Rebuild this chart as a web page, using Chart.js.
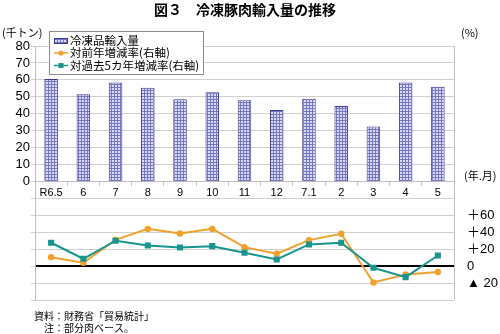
<!DOCTYPE html>
<html>
<head>
<meta charset="utf-8">
<script src="https://cdn.jsdelivr.net/npm/chart.js@4.4.0/dist/chart.umd.min.js"></script>
<style>
html, body { margin: 0; padding: 0; background: #fff; }
#wrap { width: 500px; height: 334px; }
</style>
</head>
<body>
<div id="wrap"><canvas id="porkImportChart" width="500" height="334"></canvas></div>
<script>
// data
const months = ['R6.5', '6', '7', '8', '9', '10', '11', '12', '7.1', '2', '3', '4', '5']
const import_volume = [60.5, 51.5, 58.4, 55.3, 48.5, 52.7, 47.9, 42.2, 48.8, 44.6, 32.5, 58.4, 56.0]   // 千トン
const yoy_change = [10.6, 4, 31, 44, 38.6, 44, 22.4, 14.6, 30.7, 38.2, -19.3, -9.8, -7]            // %
const vs5yr_change = [27.6, 8.7, 30, 24.4, 22, 23.6, 15.8, 7.9, 25.6, 27.6, -2, -13, 12.6]        // %
const right_tick_values = [60, 40, 20, 0, -20]
const right_tick_text = ['＋60', '＋40', '＋20', '0', '▲ 20']

const JP = "'Noto Sans CJK JP', sans-serif"
const NUM = "'Liberation Sans', 'Noto Sans CJK JP', sans-serif"
const ORANGE = '#f2a02c'
const TEAL = '#1a948f'
const NAVY = '#3c3c8a'

// hatched fill for the bars
function makeHatch() {
    const c = document.createElement('canvas')
    c.width = 3; c.height = 3
    const g = c.getContext('2d')
    g.fillStyle = '#dcdcf4'
    g.fillRect(0, 0, 3, 3)
    g.fillStyle = '#7474c4'
    g.fillRect(0, 0, 1, 3)
    g.fillRect(0, 0, 3, 1)
    return g.createPattern(c, 'repeat')
}
const ctx2d = document.getElementById('porkImportChart').getContext('2d')
const hatch = makeHatch()

const extraText = {
    id: 'extraText',
    afterDraw(chart) {
        const ctx = chart.ctx
        ctx.save()
        ctx.fillStyle = '#000'
        ctx.textBaseline = 'middle'

        ctx.font = 'bold 14px ' + JP
        ctx.textAlign = 'center'
        ctx.fillText('図３　冷凍豚肉輸入量の推移', 245, 10)

        ctx.font = '11px ' + JP
        ctx.textAlign = 'left'
        ctx.fillText('(千トン)', 2, 33)
        ctx.fillText('(%)', 461, 33)
        ctx.fillText('(年.月)', 464, 176)

        ctx.font = '10px ' + JP
        ctx.fillText('資料：財務省「貿易統計」', 34, 316)
        ctx.fillText('注：部分肉ベース。', 44, 328)

        // legend
        ctx.fillStyle = '#fff'
        ctx.strokeStyle = '#8c8c8c'
        ctx.lineWidth = 1
        ctx.fillRect(49.5, 31.5, 154, 43)
        ctx.strokeRect(49.5, 31.5, 154, 43)

        ctx.fillStyle = hatch
        ctx.fillRect(54, 38, 14, 6)
        ctx.strokeStyle = NAVY
        ctx.strokeRect(54.5, 38.5, 13, 5)

        const rows = [[ORANGE, 53, 'circle'], [TEAL, 65.5, 'rect']]
        rows.forEach(([col, y, shape]) => {
            ctx.strokeStyle = col
            ctx.fillStyle = col
            ctx.lineWidth = 1.5
            ctx.beginPath()
            ctx.moveTo(54, y); ctx.lineTo(68, y)
            ctx.stroke()
            if (shape === 'circle') {
                ctx.beginPath(); ctx.arc(61, y, 2.6, 0, Math.PI * 2); ctx.fill()
            } else {
                ctx.fillRect(58.5, y - 2.5, 5, 5)
            }
        })

        ctx.fillStyle = '#000'
        ctx.font = '11.5px ' + JP
        ctx.fillText('冷凍品輸入量', 70, 40.5)
        ctx.fillText('対前年増減率(右軸)', 70, 53)
        ctx.fillText('対過去5カ年増減率(右軸)', 70, 65.5)
        ctx.restore()
    }
}

new Chart(ctx2d, {
    type: 'bar',
    data: {
        labels: months,
        datasets: [{
            type: 'bar',
            label: '冷凍品輸入量',
            data: import_volume,
            yAxisID: 'y',
            backgroundColor: hatch,
            borderColor: NAVY,
            borderWidth: 1,
            barPercentage: 0.42,
            categoryPercentage: 1,
            order: 2
        }, {
            type: 'line',
            label: '対前年増減率(右軸)',
            data: yoy_change,
            yAxisID: 'y2',
            borderColor: ORANGE,
            backgroundColor: ORANGE,
            borderWidth: 2,
            pointStyle: 'circle',
            pointRadius: 3.2,
            pointBorderWidth: 0,
            tension: 0,
            order: 1
        }, {
            type: 'line',
            label: '対過去5カ年増減率(右軸)',
            data: vs5yr_change,
            yAxisID: 'y2',
            borderColor: TEAL,
            backgroundColor: TEAL,
            borderWidth: 2,
            pointStyle: 'rect',
            pointRadius: 4.3,
            pointBorderWidth: 0,
            tension: 0,
            order: 0
        }]
    },
    options: {
        responsive: false,
        animation: false,
        layout: { padding: { left: 0, right: 0, top: 46, bottom: 34 } },
        plugins: { legend: { display: false }, tooltip: { enabled: false } },
        scales: {
            x: {
                position: { y: 0 },
                afterFit: scale => { scale.height = 0 },
                grid: { drawOnChartArea: false, offset: true, tickLength: 4, color: '#bfbfbf' },
                border: { color: '#bfbfbf' },
                ticks: { autoSkip: false, maxRotation: 0, padding: 1, color: '#000', font: { family: NUM, size: 11 } }
            },
            y: {
                position: 'left',
                min: -70, max: 80,
                afterFit: scale => { scale.width = 35 },
                grid: { color: '#d0d0d0', tickLength: 4 },
                border: { color: '#bfbfbf' },
                ticks: {
                    stepSize: 10,
                    autoSkip: false,
                    padding: 1,
                    color: '#000',
                    font: { family: NUM, size: 13 },
                    callback: v => v >= 0 ? v : ''
                }
            },
            y2: {
                position: 'right',
                min: -40, max: 260,
                afterFit: scale => { scale.width = 46 },
                grid: {
                    drawTicks: false,
                    color: c => c.tick && c.tick.value === 0 ? '#000' : 'rgba(0,0,0,0)',
                    lineWidth: c => c.tick && c.tick.value === 0 ? 2 : 0
                },
                border: { color: '#bfbfbf' },
                ticks: {
                    stepSize: 20,
                    autoSkip: false,
                    padding: 13,
                    color: '#000',
                    font: { family: NUM, size: 13 },
                    callback: v => {
                        const i = right_tick_values.indexOf(v)
                        return i >= 0 ? right_tick_text[i] : ''
                    }
                }
            }
        }
    },
    plugins: [extraText]
})
</script>
</body>
</html>
